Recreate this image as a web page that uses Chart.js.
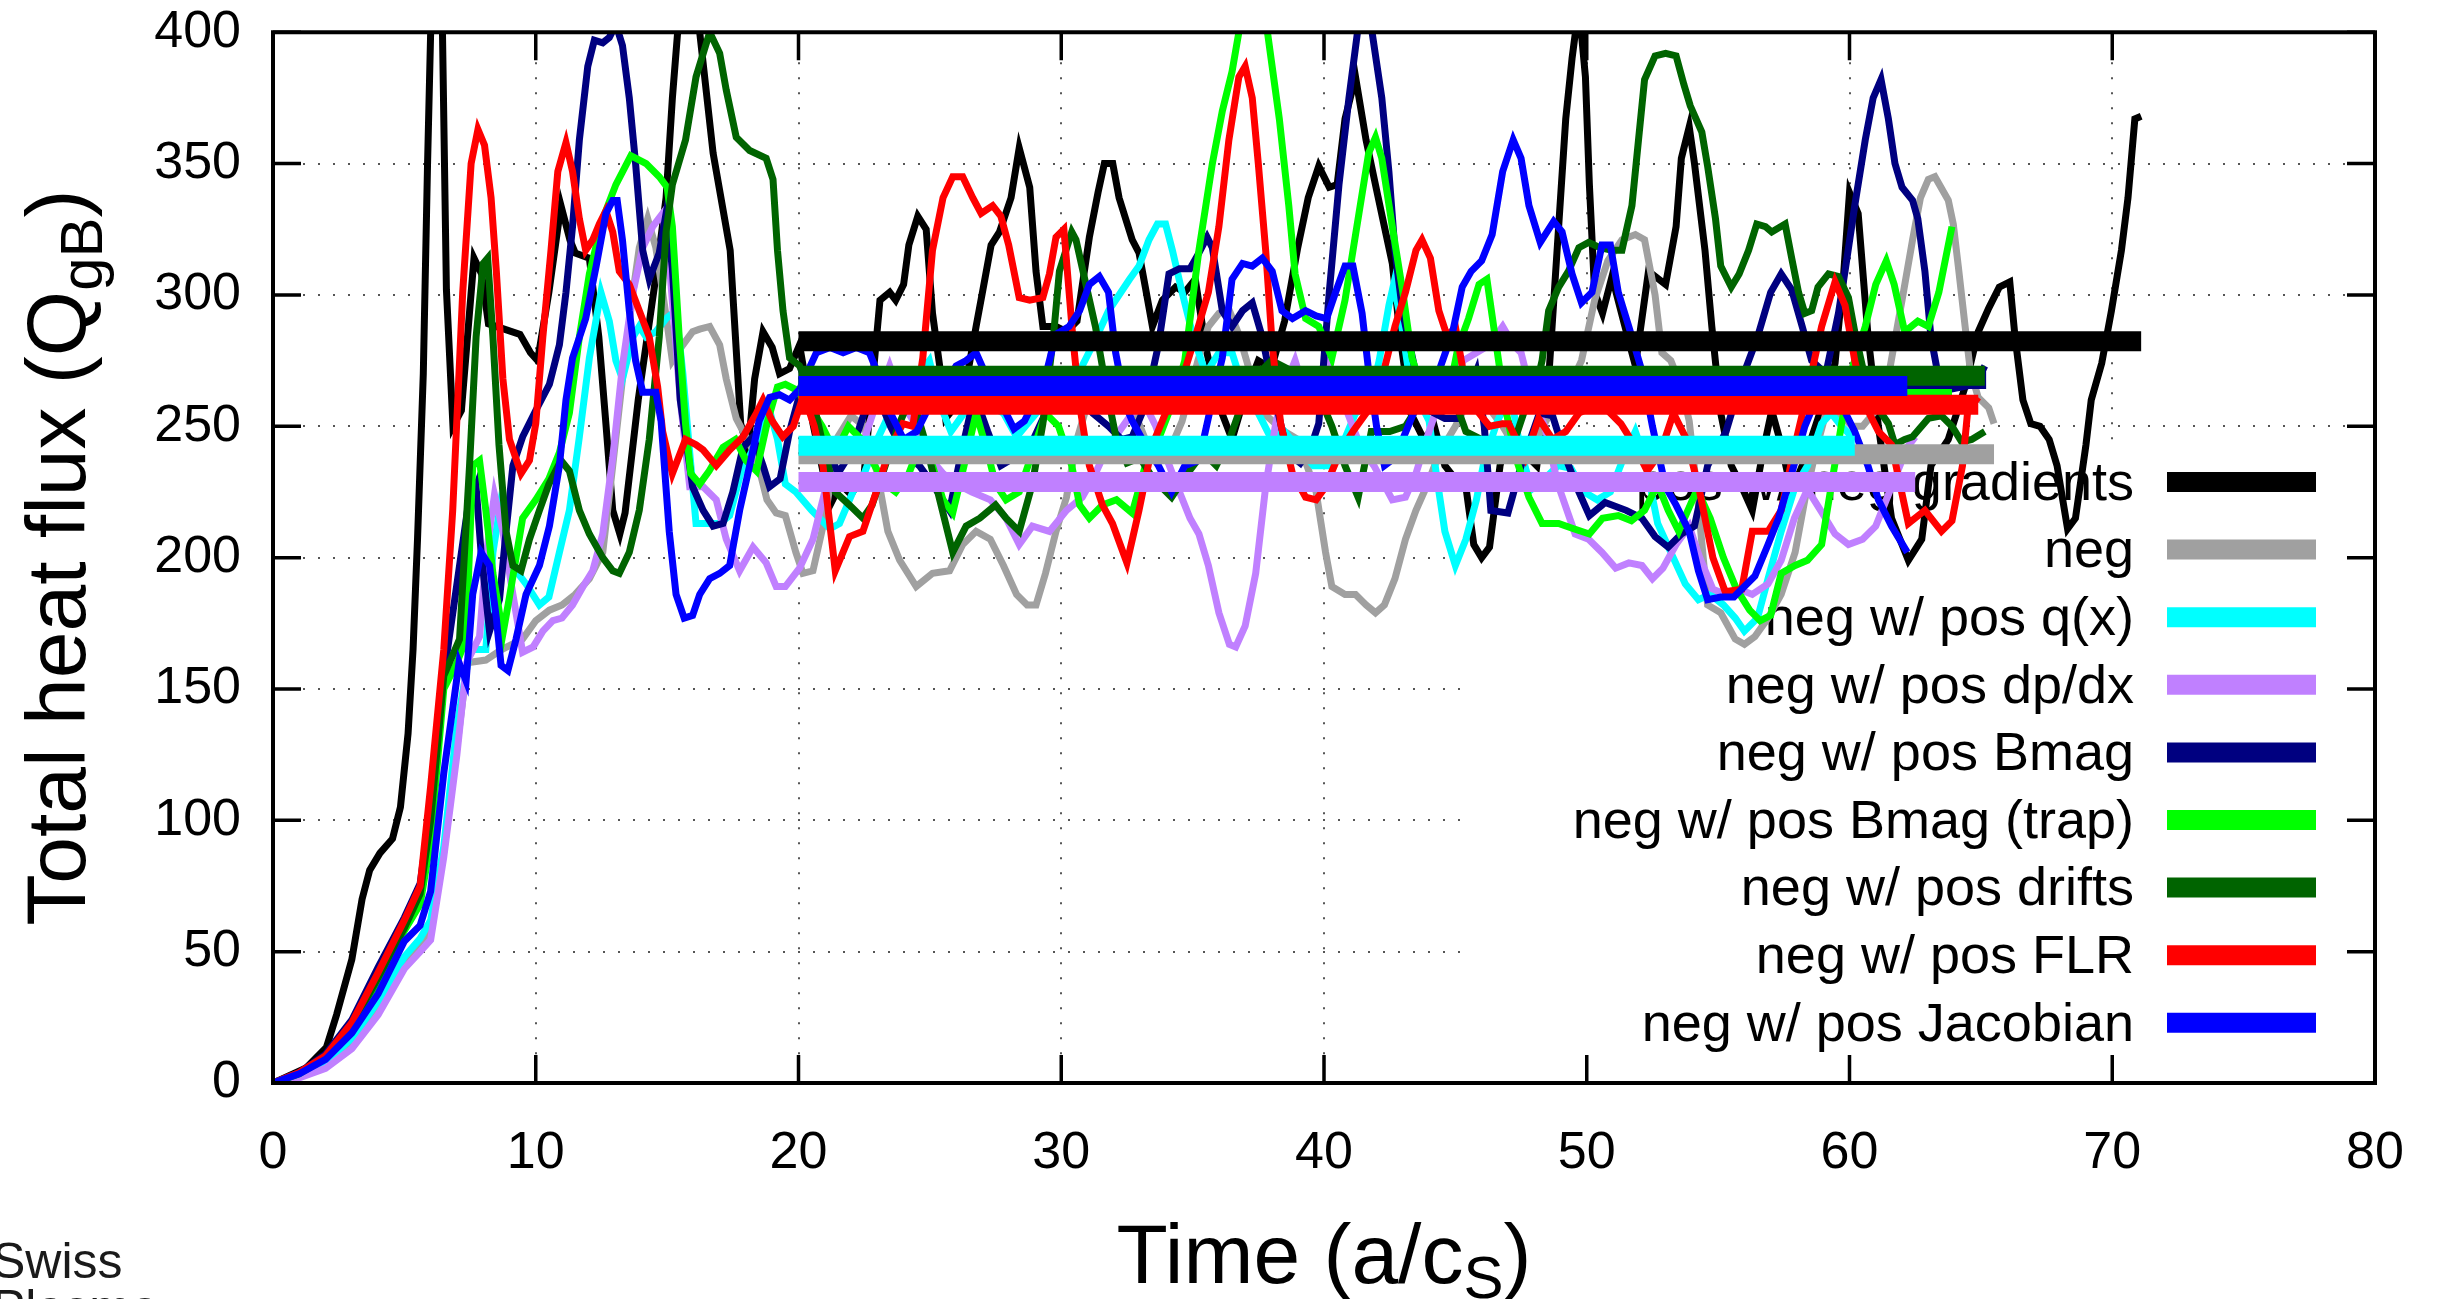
<!DOCTYPE html>
<html>
<head>
<meta charset="utf-8">
<script src="https://cdn.jsdelivr.net/npm/chart.js@4.4.0/dist/chart.umd.min.js"></script>
<style>
html,body{margin:0;padding:0;background:#fff;}
#wrap{width:2446px;height:1299px;position:relative;}
</style>
</head>
<body>
<div id="wrap"><canvas id="fluxChart"></canvas></div>
<script>
// run names, in plot order
const labels = ["pos w/ neg gradients","neg","neg w/ pos q(x)","neg w/ pos dp/dx","neg w/ pos Bmag",
  "neg w/ pos Bmag (trap)","neg w/ pos drifts","neg w/ pos FLR","neg w/ pos Jacobian"];

// [time, heat flux]
const blackPts = [[0,0],[1.26,5.7],[2.03,13.5],[2.42,26],[3.0,47],[3.39,70],[3.68,81],[4.07,87.5],[4.55,93],[4.85,105],
 [5.14,133],[5.33,165],[5.5,207],[5.72,270],[5.88,349],[6.0,400],[6.2,440],[6.45,400],[6.6,302],[6.85,250],[7.17,256],
 [7.65,314],[7.94,308],[8.2,289],[8.8,287],[9.4,285],[9.8,278],[10.07,275],[10.5,301],[10.96,334],[11.3,321],[11.5,316],
 [12.04,314],[12.4,284],[12.67,251],[12.93,218],[13.2,209],[13.4,217],[13.9,260],[14.6,309],[14.96,337],[15.2,375],
 [15.4,400],[15.8,430],[16.24,400],[16.75,354],[17.4,317],[17.6,284],[17.8,251],[18.08,241],[18.33,268],[18.65,286],
 [19.0,280],[19.28,270],[19.66,272],[20.04,281],[20.55,251],[21.2,220],[21.6,228],[22.0,224],[22.5,232],[23.1,298],
 [23.47,301],[23.7,298],[24.0,304],[24.2,319],[24.54,330],[24.86,325],[25.1,293],[25.4,271],[25.6,253],[26.0,258],
 [26.4,268],[26.76,288],[27.0,301],[27.33,319],[27.65,324],[28.09,337],[28.4,356],[28.8,341],[29.04,309],[29.3,288],
 [29.8,288],[30.2,286],[30.6,290],[31.07,322],[31.4,339],[31.64,350],[31.96,350],[32.2,337],[32.45,329],[32.7,321],
 [32.96,316],[33.2,303],[33.47,288],[33.85,298],[34.35,303],[34.7,301],[35.1,306],[35.5,280],[36.0,258],[36.5,245],
 [37.0,262],[37.5,275],[38.0,272],[38.5,290],[39.0,318],[39.4,337],[39.8,349],[40.2,341],[40.5,342],[40.8,367],
 [41.2,383],[41.6,359],[42.0,340],[42.3,326],[42.6,312],[42.9,284],[43.3,255],[43.8,245],[44.2,250],[44.6,235],
 [45.0,230],[45.4,227],[45.7,205],[46.0,200],[46.3,204],[46.7,235],[47.1,250],[47.6,240],[48.1,235],[48.55,268],
 [48.93,326],[49.2,367],[49.44,390],[49.7,410],[49.95,383],[50.1,342],[50.3,301],[50.6,293],[50.96,307],[51.4,290],
 [51.85,273],[52.35,309],[53.0,304],[53.4,326],[53.6,352],[53.9,364],[54.1,350],[54.5,317],[54.76,288],[55.1,255],
 [55.5,235],[55.9,227],[56.3,218],[56.7,240],[57.04,256],[57.4,243],[57.8,225],[58.2,235],[58.7,250],[59.1,262],
 [59.45,274],[59.77,307],[60.0,339],[60.33,331],[60.7,285],[61.1,250],[61.6,215],[62.24,199],[62.75,207],[63.1,235],
 [63.76,245],[64.4,265],[64.9,286],[65.3,295],[65.7,303],[66.1,305],[66.3,284],[66.6,260],[66.9,251],[67.25,250],
 [67.6,245],[67.9,235],[68.3,211],[68.6,215],[69.0,243],[69.2,260],[69.6,274],[69.97,294],[70.35,317],[70.6,337],
 [70.86,367],[71.1,368]];

const greyPts = [[0,0],[1,2.5],[2,6.5],[3,15],[4,28],[5,46],[5.6,52],[6,58],[6.5,88],[7.0,128],[7.4,160],[8.1,161],
 [8.7,165],[9.5,169],[10.0,176],[10.52,180],[11.0,182],[11.5,186],[12.04,192],[12.55,202],[12.93,235],[13.3,268],
 [13.7,301],[13.94,318],[14.26,329],[14.57,318],[14.83,301],[15.2,275],[15.6,281],[15.97,286],[16.24,287],[16.62,288],
 [17.0,281],[17.25,268],[17.63,253],[18.0,246],[18.4,238],[18.8,222],[19.15,217],[19.5,216],[19.9,202],[20.17,194],
 [20.55,195],[21.0,215],[21.5,246],[22.0,254],[22.5,250],[23.0,232],[23.4,210],[23.85,199],[24.48,189],[25.1,194],
 [25.75,195],[26.25,205],[26.76,210],[27.3,207],[27.8,197],[28.3,186],[28.7,182],[29.04,182],[29.4,194],[29.8,210],
 [30.2,223],[30.6,245],[31.1,262],[31.6,270],[32.2,268],[32.8,255],[33.4,240],[34.0,238],[34.6,252],[35.2,275],
 [35.6,288],[36.0,293],[36.4,294],[36.76,285],[37.2,270],[37.7,255],[38.5,248],[39.0,245],[39.7,225],[40.06,202],
 [40.3,189],[40.8,186],[41.2,186],[41.6,182],[41.96,179],[42.3,182],[42.7,192],[43.1,207],[43.5,218],[43.9,227],
 [44.4,240],[45.0,250],[45.6,262],[46.2,258],[46.8,250],[47.4,240],[48.0,243],[48.6,255],[49.2,262],[49.8,275],
 [50.3,298],[50.8,313],[51.34,321],[51.85,323],[52.2,321],[52.6,300],[52.86,278],[53.2,275],[53.6,265],[53.9,252],
 [54.2,225],[54.6,182],[55.1,179],[55.65,169],[56.0,167],[56.4,170],[56.9,177],[57.4,186],[57.93,202],[58.3,222],
 [58.7,240],[59.1,255],[59.6,255],[60.1,250],[60.5,250],[61.0,256],[61.5,270],[62.0,298],[62.4,321],[62.7,337],
 [63.0,344],[63.25,345],[63.76,336],[63.95,327],[64.14,311],[64.4,288],[64.6,271],[64.9,261],[65.3,257],[65.5,251]];

const cyanPts = [[0,0],[1,3],[2,8],[3,17],[4,31],[5,48],[5.6,55],[6,62],[6.5,90],[7.0,136],[7.5,165],[8.1,165],
 [8.37,202],[8.62,218],[8.87,205],[9.25,195],[9.63,190],[10.14,182],[10.5,185],[10.9,202],[11.28,218],[11.66,246],
 [12.04,276],[12.48,301],[12.8,290],[13.05,275],[13.3,268],[13.7,284],[13.94,288],[14.2,284],[14.57,286],[14.96,291],
 [15.34,294],[15.6,270],[15.86,240],[16.1,213],[16.5,213],[17.0,213],[17.38,216],[17.8,232],[18.2,240],[18.6,248],
 [18.9,256],[19.2,245],[19.5,228],[19.9,225],[20.5,218],[21.2,211],[21.56,213],[22.07,225],[22.5,232],[23.0,245],
 [23.47,255],[24.0,262],[24.48,268],[24.98,275],[25.4,258],[25.8,248],[26.3,255],[26.8,262],[27.3,258],[27.8,255],
 [28.3,246],[28.8,252],[29.3,258],[29.8,262],[30.3,265],[30.8,273],[31.3,283],[31.8,294],[32.2,300],[32.6,306],
 [32.96,311],[33.34,321],[33.66,327],[33.97,327],[34.23,317],[34.6,301],[35.0,285],[35.5,270],[36.0,278],[36.5,278],
 [37.0,262],[37.5,255],[38.0,245],[38.5,248],[39.0,242],[39.6,235],[40.2,235],[40.7,243],[41.2,255],[41.7,258],
 [42.1,275],[42.47,296],[42.65,304],[42.9,292],[43.2,272],[43.6,260],[44.0,252],[44.3,230],[44.6,210],[45.0,197],
 [45.4,207],[45.8,222],[46.1,237],[46.6,252],[47.1,262],[47.5,240],[47.9,226],[48.4,230],[48.9,235],[49.4,234],
 [49.9,225],[50.4,222],[50.9,225],[51.4,238],[51.85,248],[52.2,238],[52.7,213],[53.2,202],[53.75,190],[54.25,184],
 [54.7,186],[55.2,182],[55.65,177],[56.0,172],[56.5,177],[56.9,192],[57.4,210],[57.93,227],[58.4,235],[58.94,251],
 [59.3,255],[59.7,250],[60.2,245]];

const purplePts = [[0,0],[1,2],[2,5.6],[3,13],[4,26],[5,43.5],[5.6,50],[6,54.5],[6.5,86],[7.0,125],[7.37,160],[7.86,170],
 [8.1,200],[8.43,224],[8.75,210],[9.13,186],[9.5,164],[9.9,166],[10.27,172],[10.65,176],[11.0,177],[11.4,182],
 [11.8,189],[12.17,195],[12.55,209],[12.93,238],[13.3,273],[13.7,301],[14.07,318],[14.45,326],[14.83,331],[15.1,310],
 [15.5,260],[15.86,227],[16.37,227],[16.87,222],[17.25,207],[17.76,195],[18.27,204],[18.77,198],[19.15,189],[19.5,189],
 [20.04,196],[20.55,207],[21.0,225],[21.5,240],[22.0,238],[22.5,245],[23.0,260],[23.47,273],[24.0,258],[24.5,250],
 [25.0,238],[25.5,232],[26.0,228],[26.6,225],[27.3,222],[27.9,215],[28.4,205],[28.9,212],[29.55,210],[30.2,218],
 [30.8,223],[31.3,232],[31.8,243],[32.2,248],[32.7,255],[33.2,258],[33.6,250],[34.0,238],[34.5,225],[34.9,215],
 [35.24,209],[35.6,197],[36.0,179],[36.4,167],[36.64,166],[37.0,174],[37.4,194],[37.78,227],[38.16,251],[38.5,265],
 [38.9,275],[39.3,262],[39.7,258],[40.06,275],[40.5,268],[40.9,255],[41.4,242],[41.9,235],[42.6,222],[43.1,223],
 [43.5,232],[43.9,245],[44.3,257],[44.8,265],[45.3,275],[45.8,278],[46.3,281],[46.8,288],[47.2,281],[47.5,278],
 [47.9,262],[48.4,250],[48.9,228],[49.56,209],[50.07,207],[50.58,202],[51.1,196],[51.6,198],[52.1,197],[52.5,192],
 [52.9,196],[53.4,205],[53.9,212],[54.3,200],[54.8,188],[55.3,186],[55.8,188],[56.3,186],[56.9,190],[57.4,199],
 [57.9,215],[58.4,226],[58.9,218],[59.45,209],[59.96,205],[60.5,207],[61.0,212],[61.4,222],[61.8,232],[62.2,242],
 [62.5,246]];

const navyPts = [[0,0],[1,4],[2,11],[3,24],[4,44],[5,63],[5.6,76],[6,105],[6.5,155],[7.0,190],[7.4,218],[7.73,227],
 [7.92,202],[8.24,172],[8.62,184],[8.87,210],[9.13,235],[9.5,246],[10.0,256],[10.52,266],[10.9,281],[11.15,301],
 [11.4,326],[11.66,359],[11.98,387],[12.23,397],[12.55,396],[12.8,398],[13.05,403],[13.3,395],[13.56,375],[13.8,350],
 [14.07,317],[14.32,306],[14.7,316],[14.96,331],[15.2,310],[15.5,260],[15.97,227],[16.37,218],[16.75,212],[17.13,213],
 [17.5,225],[17.89,242],[18.27,246],[18.65,235],[18.9,227],[19.3,230],[19.66,248],[20.04,262],[20.5,258],[21.0,245],
 [21.5,232],[22.0,240],[22.5,255],[23.0,262],[23.5,250],[24.0,240],[24.6,235],[25.1,228],[25.75,218],[26.2,240],
 [26.7,262],[27.2,248],[27.7,235],[28.2,238],[28.8,242],[29.4,255],[30.0,262],[30.6,262],[31.2,255],[31.8,250],
 [32.3,245],[32.7,246],[33.2,258],[33.7,281],[34.1,308],[34.5,310],[34.9,310],[35.24,316],[35.55,322],[35.75,318],
 [36.13,294],[36.5,288],[36.9,294],[37.27,297],[37.65,284],[38.1,262],[38.6,240],[39.1,236],[39.5,242],[39.8,251],
 [40.2,301],[40.57,342],[40.95,375],[41.3,402],[41.55,412],[41.8,402],[42.2,375],[42.47,347],[42.7,317],[43.0,293],
 [43.5,270],[44.0,256],[44.6,253],[45.1,253],[45.8,271],[46.1,250],[46.35,218],[47.0,217],[47.5,235],[48.2,255],
 [48.7,254],[49.2,238],[49.7,225],[50.1,216],[50.7,221],[51.5,218],[52.1,215],[52.6,208],[53.1,204],[53.6,209],
 [54.1,212],[54.6,235],[55.3,248],[55.9,268],[56.5,284],[57.0,301],[57.4,308],[57.8,302],[58.2,288],[58.56,275],
 [59.1,270],[59.58,293],[59.83,309],[60.2,334],[60.6,359],[60.9,375],[61.2,382],[61.48,367],[61.73,350],[62.0,341],
 [62.4,336],[62.6,329],[62.87,309],[63.1,284],[63.4,268],[63.8,264],[64.3,265],[64.8,266],[65.15,273]];

const limePts = [[0,0],[1,3.5],[2,9.5],[3,21],[4,39],[5,58],[5.6,68],[6,92],[6.5,150],[7.0,160],[7.35,169],[7.6,235],
 [7.86,237],[8.1,218],[8.37,194],[8.75,171],[9.0,185],[9.5,215],[10.0,222],[10.5,230],[10.9,240],[11.28,255],
 [11.66,284],[12.04,308],[12.55,329],[13.05,342],[13.62,353],[14.2,350],[14.7,345],[15.0,341],[15.2,326],[15.46,284],
 [15.7,251],[15.9,232],[16.24,228],[16.6,233],[17.13,242],[17.6,245],[18.0,237],[18.4,233],[18.8,251],[19.2,265],
 [19.5,266],[19.9,264],[20.4,258],[20.9,250],[21.4,240],[21.9,250],[22.4,245],[22.9,235],[23.3,228],[23.7,225],
 [24.2,232],[24.7,245],[25.1,235],[25.5,222],[25.87,217],[26.3,235],[26.76,255],[27.2,240],[27.5,228],[27.9,222],
 [28.4,225],[28.9,240],[29.4,255],[29.9,250],[30.4,235],[30.7,220],[31.07,215],[31.57,220],[32.1,222],[32.7,217],
 [33.2,235],[33.7,245],[34.2,258],[34.7,275],[35.24,317],[35.75,350],[36.13,370],[36.5,385],[36.76,400],[37.2,418],
 [37.78,405],[38.3,367],[38.66,334],[38.9,308],[39.3,291],[39.8,288],[40.3,276],[40.8,298],[41.33,331],[41.7,354],
 [41.96,360],[42.2,352],[42.6,326],[43.0,301],[43.35,276],[43.8,262],[44.3,258],[44.8,265],[45.1,280],[45.5,291],
 [45.9,304],[46.2,306],[46.5,285],[46.9,257],[47.3,238],[47.8,223],[48.3,213],[48.93,213],[49.5,211],[50.1,209],
 [50.6,215],[51.2,216],[51.7,214],[52.2,218],[52.7,228],[53.1,218],[53.5,210],[54.2,226],[54.7,215],[55.2,200],
 [55.7,188],[56.2,180],[56.6,176],[57.0,178],[57.4,194],[57.93,197],[58.4,199],[58.94,205],[59.3,227],[59.7,251],
 [60.1,272],[60.6,288],[61.0,304],[61.4,313],[61.7,304],[62.1,286],[62.6,290],[63.0,288],[63.4,301],[63.9,326]];

const dgreenPts = [[0,0],[1,3.7],[2,10],[3,22],[4,40],[5,59],[5.6,72],[6,100],[6.5,155],[7.1,169],[7.48,235],[7.73,284],
 [8.0,312],[8.17,314],[8.37,284],[8.6,243],[8.87,210],[9.13,197],[9.44,195],[9.76,207],[10.14,218],[10.5,228],
 [10.96,237],[11.28,233],[11.66,218],[12.04,209],[12.55,200],[12.93,195],[13.18,194],[13.56,202],[13.94,218],
 [14.32,245],[14.7,284],[14.96,324],[15.2,342],[15.7,359],[16.1,383],[16.62,400],[17.0,392],[17.25,378],[17.63,360],
 [18.14,355],[18.77,352],[19.03,344],[19.2,317],[19.41,294],[19.66,276],[20.04,273],[20.5,262],[21.0,240],[21.4,225],
 [21.94,220],[22.45,215],[22.8,220],[23.3,235],[23.8,250],[24.3,262],[24.8,245],[25.3,225],[25.87,202],[26.38,212],
 [26.9,215],[27.5,220],[27.9,215],[28.4,210],[28.9,228],[29.3,251],[29.7,284],[29.93,309],[30.18,317],[30.4,324],
 [30.56,321],[30.94,304],[31.3,288],[31.7,265],[32.1,245],[32.5,236],[33.0,238],[33.5,230],[34.2,223],[34.8,232],
 [35.4,240],[35.9,235],[36.4,245],[37.0,262],[37.5,270],[38.0,275],[38.6,272],[39.2,265],[39.8,262],[40.3,250],
 [40.8,235],[41.3,223],[41.8,248],[42.5,248],[43.1,250],[43.6,258],[44.2,268],[44.8,265],[45.4,248],[46.0,245],
 [46.65,237],[47.1,240],[47.6,255],[48.0,262],[48.3,275],[48.55,294],[48.93,303],[49.3,309],[49.7,318],[50.07,320],
 [50.5,318],[50.96,317],[51.34,317],[51.72,334],[51.97,359],[52.2,382],[52.6,391],[53.0,392],[53.4,391],[53.7,380],
 [53.94,372],[54.38,362],[54.6,349],[54.9,329],[55.1,311],[55.5,303],[55.8,308],[56.16,317],[56.47,327],[56.8,326],
 [57.04,324],[57.55,327],[57.8,314],[58.06,301],[58.3,293],[58.56,294],[58.8,303],[59.2,308],[59.58,307],[59.96,299],
 [60.2,286],[60.6,268],[61.0,258],[61.48,251],[61.73,243],[62.1,245],[62.4,246],[63.0,253],[63.5,254],[63.9,250],
 [64.27,244],[64.65,245],[65.15,248]];

const redPts = [[0,0],[1,4],[2,10.4],[3,23],[4,42],[5,62],[5.6,75],[6,113],[6.5,165],[6.84,218],[7.22,301],[7.54,350],
 [7.8,363],[8.05,357],[8.3,337],[8.5,309],[8.75,268],[9.0,245],[9.44,232],[9.76,237],[10.0,251],[10.27,284],[10.58,317],
 [10.84,347],[11.15,358],[11.4,347],[11.66,329],[11.9,317],[12.17,321],[12.42,327],[12.67,332],[12.93,324],[13.18,309],
 [13.56,304],[13.94,294],[14.32,284],[14.64,265],[14.83,248],[15.2,232],[15.7,245],[16.1,243],[16.37,241],[16.87,235],
 [17.38,241],[17.89,246],[18.4,255],[18.65,260],[19.0,252],[19.4,246],[19.8,250],[20.2,262],[20.6,250],[20.93,235],
 [21.4,195],[21.94,208],[22.45,210],[22.96,225],[23.46,241],[23.97,251],[24.35,250],[24.73,276],[25.1,317],[25.5,337],
 [25.87,345],[26.25,345],[26.63,337],[26.95,331],[27.39,334],[27.7,330],[28.0,319],[28.4,299],[28.8,298],[29.3,299],
 [29.55,308],[29.8,322],[30.1,325],[30.44,284],[30.7,258],[31.07,235],[31.57,220],[31.95,213],[32.5,198],[32.96,218],
 [33.47,243],[33.97,255],[34.6,268],[35.1,284],[35.6,301],[36.0,326],[36.38,359],[36.76,383],[37.0,387],[37.27,375],
 [37.5,350],[37.78,317],[38.03,281],[38.35,251],[38.8,232],[39.3,223],[39.7,222],[40.06,227],[40.6,240],[41.1,248],
 [41.6,255],[42.2,268],[42.7,288],[43.1,301],[43.5,317],[43.73,321],[44.05,314],[44.37,294],[44.7,284],[45.0,288],
 [45.4,265],[45.9,255],[46.3,250],[46.8,251],[47.03,251],[47.66,238],[48.17,253],[48.7,245],[49.2,248],[49.7,255],
 [50.3,258],[50.8,256],[51.3,251],[51.8,243],[52.3,233],[52.8,240],[53.3,255],[53.8,245],[54.3,225],[54.8,200],
 [55.27,187],[55.9,188],[56.3,210],[56.9,210],[57.4,218],[57.93,243],[58.4,263],[58.94,288],[59.45,305],[59.83,296],
 [60.2,275],[60.6,258],[61.1,248],[61.6,243],[62.24,213],[62.87,218],[63.5,210],[63.9,214],[64.3,235],[64.5,256],
 [64.9,261]];

const bluePts = [[0,0],[1,3.5],[2,9],[3,19],[4,34],[5,54],[5.6,60],[6,73],[6.5,118],[7.08,160],[7.35,153],[7.6,186],
 [7.92,202],[8.24,197],[8.5,177],[8.68,159],[8.94,157],[9.25,169],[9.63,186],[10.14,197],[10.52,212],[10.9,235],
 [11.15,260],[11.4,276],[11.9,291],[12.3,311],[12.67,331],[12.93,336],[13.1,336],[13.3,321],[13.56,294],[13.8,275],
 [14.07,263],[14.57,263],[14.77,252],[15.08,210],[15.34,186],[15.65,177],[15.97,178],[16.24,186],[16.62,192],
 [17.0,194],[17.38,197],[17.76,218],[18.14,235],[18.5,252],[18.9,261],[19.28,262],[19.66,260],[20.04,264],[20.68,278],
 [21.2,280],[21.7,278],[22.2,280],[22.7,278],[23.1,268],[23.5,255],[24.0,245],[24.5,248],[25.0,258],[25.5,265],
 [26.0,273],[26.38,275],[26.76,278],[27.2,268],[27.8,257],[28.2,249],[28.6,252],[29.0,260],[29.3,265],[29.8,285],
 [30.3,288],[30.7,294],[31.07,304],[31.45,307],[31.8,301],[32.07,278],[32.45,258],[32.7,252],[33.2,243],[33.7,235],
 [34.2,225],[34.7,235],[35.24,237],[35.75,260],[36.13,276],[36.5,306],[36.9,312],[37.27,311],[37.65,314],[38.03,309],
 [38.4,294],[38.8,291],[39.3,294],[39.7,292],[40.1,291],[40.44,301],[40.8,311],[41.1,311],[41.45,293],[41.7,271],
 [42.0,250],[42.3,235],[42.7,238],[43.2,250],[43.7,262],[44.2,266],[44.9,286],[45.26,303],[45.6,309],[46.0,313],
 [46.4,323],[46.8,347],[47.2,359],[47.5,352],[47.8,334],[48.23,320],[48.74,328],[49.06,324],[49.44,308],[49.8,297],
 [50.2,301],[50.58,319],[50.9,319],[51.2,301],[51.6,288],[52.1,271],[52.5,250],[53.0,227],[53.4,220],[53.9,210],
 [54.25,195],[54.6,184],[55.1,185],[55.6,185],[56.0,189],[56.4,193],[56.9,205],[57.3,215],[57.8,232],[58.3,250],
 [58.8,262],[59.2,268],[59.7,258],[60.2,248],[60.7,235],[61.1,222],[61.6,212],[62.2,202]];

// time-averaged flux of each run (drawn from t=20 to the end of the run)
const meanStart = 20;
const meanVals = [282.4, 239.4, 242.6, 228.8, 268.0, 264.2, 269.2, 258.2, 265.3];
const meanEnds = [71.1, 65.5, 60.2, 62.5, 65.2, 63.9, 65.15, 64.9, 62.2];

const allPts = [blackPts, greyPts, cyanPts, purplePts, navyPts, limePts, dgreenPts, redPts, bluePts];
const colors = ["#000000","#a0a0a0","#00ffff","#c080ff","#000080","#00ff00","#006400","#ff0000","#0000ff"];
const barOrder = [3, 1, 2, 5, 4, 6, 7, 8, 0];

const FONT = '"Liberation Sans", Arial, Helvetica, sans-serif';
Chart.defaults.font.family = FONT;

const datasets = [];
allPts.forEach((pts, i) => {
  datasets.push({
    label: labels[i],
    data: pts.map(p => ({x: p[0], y: p[1]})),
    borderColor: colors[i],
    borderWidth: 7,
    pointRadius: 0,
    fill: false,
    tension: 0,
    order: 100 - i
  });
});
barOrder.forEach((i, j) => {
  datasets.push({
    label: labels[i] + " mean",
    data: [{x: meanStart, y: meanVals[i]}, {x: meanEnds[i], y: meanVals[i]}],
    borderColor: colors[i],
    borderWidth: 20,
    borderCapStyle: 'butt',
    pointRadius: 0,
    fill: false,
    order: 20 - j
  });
});

const keyPlugin = {
  id: 'keyPlugin',
  beforeDatasetsDraw(chart) {
    const {ctx, chartArea: a} = chart;
    ctx.save();
    // key background hides the grid
    ctx.fillStyle = '#fff';
    ctx.fillRect(1466, 447, a.right - 1466, a.bottom - 447);
    ctx.font = '54px ' + FONT;
    ctx.textAlign = 'right';
    ctx.textBaseline = 'middle';
    labels.forEach((lab, i) => {
      const y = 482 + i * 67.6;
      ctx.fillStyle = '#000';
      ctx.fillText(lab, 2134, y + 3);
      ctx.strokeStyle = colors[i];
      ctx.lineWidth = 20;
      ctx.lineCap = 'butt';
      ctx.beginPath();
      ctx.moveTo(2167, y);
      ctx.lineTo(2316, y);
      ctx.stroke();
    });
    ctx.restore();
  },
  afterDraw(chart) {
    const {ctx, chartArea: a, scales} = chart;
    ctx.save();
    ctx.strokeStyle = '#000';
    ctx.lineWidth = 4;
    ctx.strokeRect(a.left, a.top, a.right - a.left, a.bottom - a.top);
    ctx.lineWidth = 3.5;
    ctx.beginPath();
    scales.y.ticks.forEach(t => {
      const p = scales.y.getPixelForValue(t.value);
      ctx.moveTo(a.left, p); ctx.lineTo(a.left + 28, p);
      ctx.moveTo(a.right, p); ctx.lineTo(a.right - 28, p);
    });
    scales.x.ticks.forEach(t => {
      const p = scales.x.getPixelForValue(t.value);
      ctx.moveTo(p, a.bottom); ctx.lineTo(p, a.bottom - 28);
      ctx.moveTo(p, a.top); ctx.lineTo(p, a.top + 28);
    });
    ctx.stroke();

    // axis titles with subscripts
    ctx.fillStyle = '#000';
    ctx.textBaseline = 'alphabetic';
    ctx.textAlign = 'left';
    const big = '84px ' + FONT, small = '60px ' + FONT;
    // y title
    ctx.save();
    ctx.translate(85, (a.top + a.bottom) / 2);
    ctx.rotate(-Math.PI / 2);
    ctx.font = big;
    const y1 = 'Total heat flux (Q', y3 = ')';
    const w1 = ctx.measureText(y1).width, w3 = ctx.measureText(y3).width;
    ctx.font = small;
    const w2 = ctx.measureText('gB').width;
    let x0 = -(w1 + w2 + w3) / 2;
    ctx.font = big; ctx.fillText(y1, x0, 0);
    ctx.font = small; ctx.fillText('gB', x0 + w1, 17);
    ctx.font = big; ctx.fillText(y3, x0 + w1 + w2, 0);
    ctx.restore();
    // x title
    ctx.font = big;
    const t1 = 'Time (a/c', t3 = ')';
    const u1 = ctx.measureText(t1).width, u3 = ctx.measureText(t3).width;
    ctx.font = small;
    const u2 = ctx.measureText('S').width;
    const cx = (a.left + a.right) / 2;
    x0 = cx - (u1 + u2 + u3) / 2;
    ctx.font = big; ctx.fillText(t1, x0, 1283);
    ctx.font = small; ctx.fillText('S', x0 + u1, 1298);
    ctx.font = big; ctx.fillText(t3, x0 + u1 + u2, 1283);

    // cropped logo text at bottom left
    ctx.fillStyle = '#1a1a1a';
    ctx.font = '50px ' + FONT;
    ctx.fillText('Swiss', -8, 1278);
    ctx.fillText('Plasma', -8, 1325);
    ctx.restore();
  }
};

const gridColor = (edgeA, edgeB) => c => {
  const v = c.tick ? c.tick.value : null;
  return (v === edgeA || v === edgeB) ? 'rgba(0,0,0,0)' : '#555';
};

new Chart(document.getElementById('fluxChart'), {
  type: 'line',
  data: {datasets},
  options: {
    responsive: true,
    maintainAspectRatio: false,
    animation: false,
    devicePixelRatio: 1,
    layout: {padding: {top: 19, right: 71, left: 0, bottom: 0}},
    plugins: {legend: {display: false}, tooltip: {enabled: false}},
    scales: {
      x: {
        type: 'linear', min: 0, max: 80,
        ticks: {stepSize: 10, color: '#000', font: {size: 52}, padding: 39, maxRotation: 0},
        grid: {drawTicks: false, color: gridColor(0, 80), lineWidth: 2},
        border: {display: false, dash: [2, 13]},
        afterFit(s) { s.height = 216; }
      },
      y: {
        min: 0, max: 400,
        ticks: {stepSize: 50, color: '#000', font: {size: 52, lineHeight: 0.01}, padding: 32},
        grid: {drawTicks: false, color: gridColor(0, 400), lineWidth: 2},
        border: {display: false, dash: [2, 13]},
        afterFit(s) { s.width = 273; }
      }
    }
  },
  plugins: [keyPlugin]
});
</script>
</body>
</html>
